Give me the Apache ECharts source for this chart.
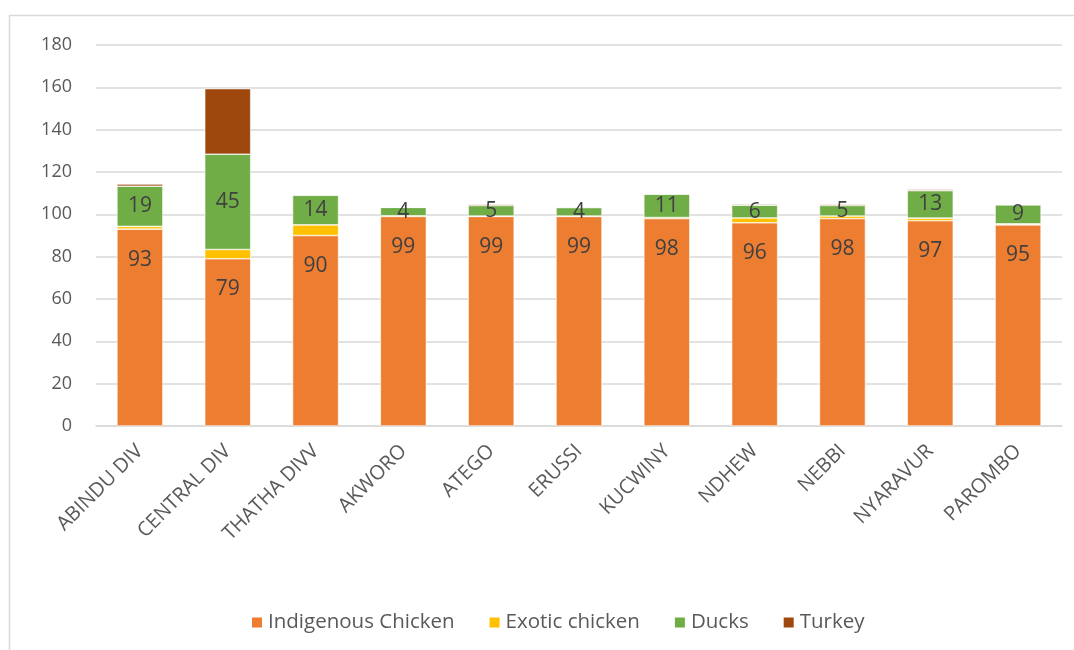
<!DOCTYPE html>
<html>
<head>
<meta charset="utf-8">
<title>Poultry by sub-county</title>
<script src="https://cdn.jsdelivr.net/npm/echarts@6/dist/echarts.min.js"></script>
<style>
  html, body { margin: 0; padding: 0; background: #ffffff; }
  #chart { width: 1074px; height: 650px; }
</style>
</head>
<body>
<div id="chart"></div>
<script>
// Sub-counties along the x axis
const categories = ['ABINDU DIV', 'CENTRAL DIV', 'THATHA DIVV', 'AKWORO', 'ATEGO', 'ERUSSI', 'KUCWINY', 'NDHEW', 'NEBBI', 'NYARAVUR', 'PAROMBO'];

// Stacked series values
const indigenousChicken = [93, 79, 90, 99, 99, 99, 98, 96, 98, 97, 95];
const exoticChicken     = [1.3, 4.4, 5, 0.3, 0.2, 0.2, 0.5, 2.3, 1.2, 1.2, 0.5];
const ducks             = [19, 45, 14, 4, 5, 4, 11, 6, 5, 13, 9];
const turkey            = [1, 31, 0.3, 0, 0.5, 0.3, 0.3, 0.5, 0.5, 0.5, 0];

// Value axis ticks
const yTicks = [0, 20, 40, 60, 80, 100, 120, 140, 160, 180];

const FONT = '"Open Sans", "Noto Sans", sans-serif';
const BAR_W = 46;

function barSeries(name, data, color, label) {
  return {
    name: name,
    type: 'bar',
    stack: 'total',
    data: data,
    barWidth: BAR_W,
    itemStyle: { color: color, borderColor: '#ffffff', borderWidth: 0.6 },
    label: Object.assign({
      show: false,
      color: '#404040',
      fontFamily: FONT,
      fontSize: 21
    }, label || {}),
    emphasis: { disabled: true }
  };
}

const chart = echarts.init(document.getElementById('chart'), null, { renderer: 'canvas' });

chart.setOption({
  animation: false,
  backgroundColor: '#ffffff',
  textStyle: { fontFamily: FONT },
  graphic: [{
    type: 'rect',
    shape: { x: 9.5, y: 15.5, width: 1200, height: 800 },
    style: { fill: 'none', stroke: '#d9d9d9', lineWidth: 1.5 },
    silent: true
  }],
  grid: { left: 96, right: 12, top: 45, bottom: 224, containLabel: false },
  legend: {
    bottom: 12,
    left: 245,
    itemWidth: 12,
    itemHeight: 12,
    itemGap: 33,
    icon: 'rect',
    textStyle: { color: '#595959', fontSize: 20.5, fontFamily: FONT },
    data: ['Indigenous Chicken', 'Exotic chicken', 'Ducks', 'Turkey']
  },
  xAxis: {
    type: 'category',
    data: categories,
    axisLine: { show: true, lineStyle: { color: '#d9d9d9', width: 1.5 } },
    axisTick: { show: false },
    axisLabel: {
      rotate: 45,
      interval: 0,
      margin: 22,
      color: '#595959',
      fontSize: 20,
      fontFamily: FONT
    }
  },
  yAxis: {
    type: 'value',
    min: yTicks[0],
    max: yTicks[yTicks.length - 1],
    interval: yTicks[1] - yTicks[0],
    axisLine: { show: false },
    axisTick: { show: false },
    axisLabel: { color: '#595959', fontSize: 18, margin: 24, fontFamily: FONT },
    splitLine: { lineStyle: { color: '#d9d9d9', width: 1.5 } }
  },
  series: [
    barSeries('Indigenous Chicken', indigenousChicken, '#ED7D31', { show: true, position: 'insideTop', distance: 20 }),
    barSeries('Exotic chicken', exoticChicken, '#FFC000'),
    barSeries('Ducks', ducks, '#70AD47', { show: true, position: 'inside' }),
    barSeries('Turkey', turkey, '#9E480E')
  ]
});
</script>
</body>
</html>
